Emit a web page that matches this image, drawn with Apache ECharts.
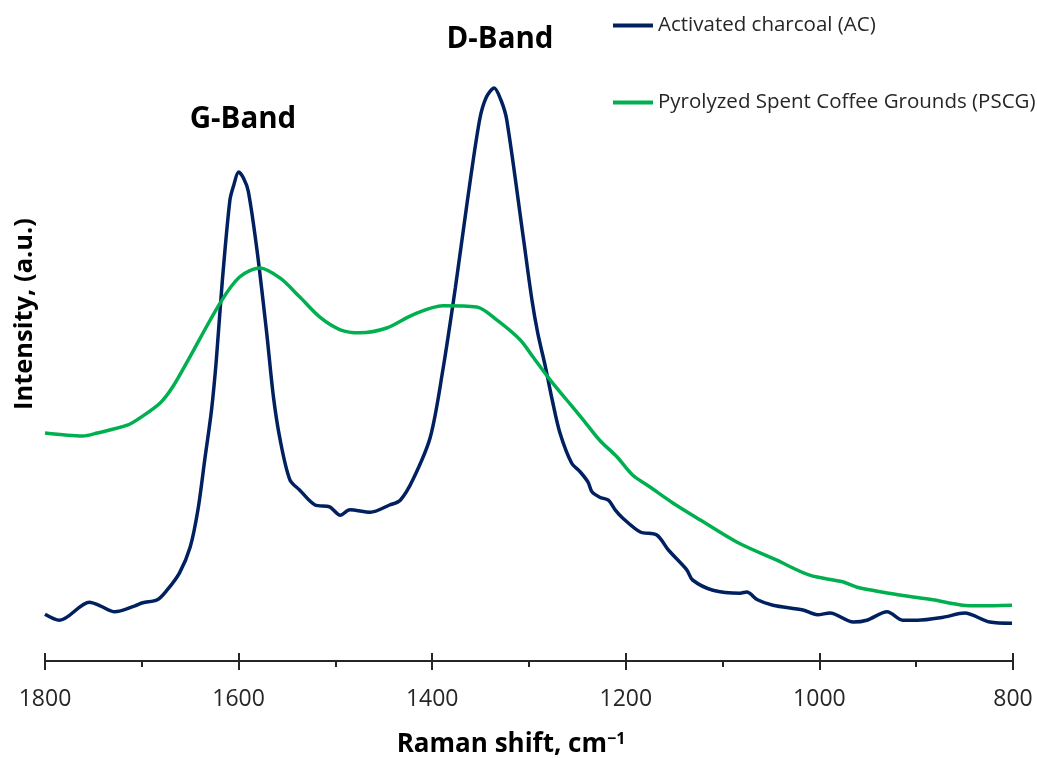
<!DOCTYPE html>
<html>
<head>
<meta charset="utf-8">
<script src="https://cdn.jsdelivr.net/npm/echarts@6/dist/echarts.min.js"></script>
<style>html,body{margin:0;padding:0;background:#fff;}#c{width:1037px;height:758px;}</style>
</head>
<body>
<div id="c"></div>
<script>
// Raman shift (cm-1) and intensity (a.u.)
const acShift = [1800,1785,1754,1743,1728,1707,1699,1684,1674,1661,1650,1642,1635,1628,1623,1617,1609,1605,1600,1595,1590,1581,1571,1564,1557,1547,1537,1521,1506,1495,1485,1464,1444,1433,1420,1402,1389,1376,1364,1351,1344,1336,1329,1323,1306,1297,1291,1283,1276,1268,1256,1247,1239,1235,1227,1218,1211,1203,1185,1168,1156,1137,1131,1110,1082,1075,1064,1048,1017,1002,989,965,951,930,914,899,872,850,824,801];
const acIntensity = [7.8,6.8,9.8,9.2,8.2,9.2,9.7,10.2,11.8,14.7,19.0,25.2,33.5,41.8,50.2,63.0,76.8,79.3,81.5,80.5,78.3,68.5,54.7,44.0,36.8,30.2,28.5,26.0,25.7,24.3,25.2,24.8,26.0,26.8,30.2,37.3,48.5,62.3,76.3,90.2,94.0,95.5,93.5,90.2,70.7,60.2,54.7,49.0,43.5,38.0,33.0,31.5,29.8,28.2,27.3,26.8,25.2,23.8,21.5,21.0,18.5,15.2,13.5,11.8,11.3,11.5,10.2,9.3,8.5,7.7,8.0,6.5,6.8,8.2,6.8,6.8,7.3,8.0,6.5,6.3];
const pscgShift = [1800,1761,1746,1715,1702,1681,1668,1652,1619,1599,1578,1557,1537,1516,1495,1475,1447,1420,1389,1354,1333,1309,1296,1278,1261,1244,1227,1209,1193,1175,1151,1123,1085,1044,1010,976,961,917,883,852,834,801];
const pscgIntensity = [38.0,37.5,38.0,39.3,40.5,43.0,45.7,50.2,59.7,64.0,65.5,63.8,60.7,57.3,55.2,54.7,55.5,57.7,59.2,59.0,56.8,53.5,50.7,46.8,43.5,40.2,36.8,34.0,31.0,29.0,26.3,23.5,19.8,16.8,14.3,13.2,12.3,11.0,10.2,9.3,9.2,9.3];
const seriesNames = ['Activated charcoal (AC)', 'Pyrolyzed Spent Coffee Grounds (PSCG)'];
const xTicks = [1800,1600,1400,1200,1000,800];

const acData = acShift.map((s,i)=>[s, acIntensity[i]]);
const pscgData = pscgShift.map((s,i)=>[s, pscgIntensity[i]]);

const chart = echarts.init(document.getElementById('c'), null, {renderer:'canvas'});
const FONT = 'Open Sans';
const baseX = {
  type:'value', min:800, max:1800, interval:200, inverse:true,
  splitLine:{show:false}
};
chart.setOption({
  animation:false,
  backgroundColor:'#fff',
  grid:{left:45, right:24, top:61, bottom:97, containLabel:false},
  legend:{
    orient:'vertical', left:613, top:15, padding:0, icon:'rect', itemWidth:40, itemHeight:4, itemGap:56,
    textStyle:{fontFamily:FONT, fontSize:20.5, color:'#262626'},
    data:seriesNames
  },
  xAxis:[
    Object.assign({}, baseX, {
      position:'bottom',
      axisLine:{show:true, lineStyle:{color:'#262626', width:2}},
      axisTick:{show:true, inside:false, length:9, lineStyle:{color:'#262626', width:2}},
      minorTick:{show:true, splitNumber:2, length:6, lineStyle:{color:'#262626', width:2}},
      axisLabel:{margin:27, fontFamily:FONT, fontSize:23, color:'#262626',
        formatter:(v)=> xTicks.includes(v) ? String(v) : ''}
    }),
    Object.assign({}, baseX, {
      position:'bottom',
      axisLine:{show:false},
      axisTick:{show:true, inside:true, length:8, lineStyle:{color:'#262626', width:2}},
      axisLabel:{show:false}
    })
  ],
  yAxis:{
    type:'value', min:0, max:100, show:false
  },
  graphic:[
    {type:'text', x:25, y:314, rotation:Math.PI/2,
      style:{text:'Intensity, (a.u.)', fontFamily:FONT, fontWeight:'bold', fontSize:25.5, fill:'#000',
        align:'center', verticalAlign:'middle'}},
    {type:'text', x:511, y:745,
      style:{text:'{m|Raman shift, cm}{s|−1}', align:'center', verticalAlign:'middle',
        rich:{m:{fontFamily:FONT, fontWeight:'bold', fontSize:26, fill:'#000'},
              s:{fontFamily:FONT, fontWeight:'bold', fontSize:16, fill:'#000', verticalAlign:'top', padding:[0,0,12,0]}}}},
    {type:'text', x:243, y:120,
      style:{text:'G-Band', fontFamily:FONT, fontWeight:'bold', fontSize:29.5, fill:'#000', align:'center', verticalAlign:'middle'}},
    {type:'text', x:500, y:40,
      style:{text:'D-Band', fontFamily:FONT, fontWeight:'bold', fontSize:29.5, fill:'#000', align:'center', verticalAlign:'middle'}}
  ],
  series:[
    {name:seriesNames[0], type:'line', data:acData, smooth:0.3, showSymbol:false, symbol:'none',
      lineStyle:{color:'#002060', width:3.5}, itemStyle:{color:'#002060'}},
    {name:seriesNames[1], type:'line', data:pscgData, smooth:0.3, showSymbol:false, symbol:'none',
      lineStyle:{color:'#00B050', width:3.5}, itemStyle:{color:'#00B050'}}
  ]
});
</script>
</body>
</html>
